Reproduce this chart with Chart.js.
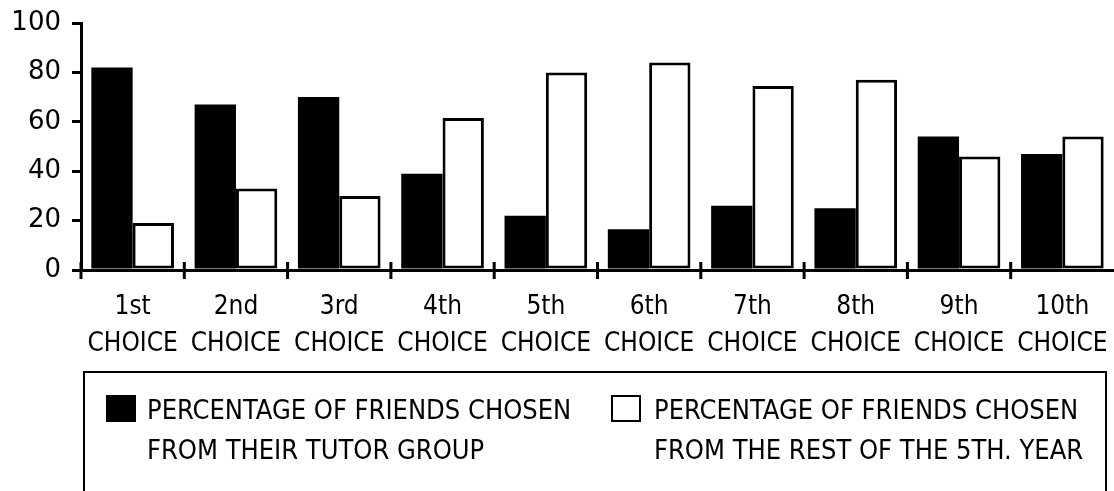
<!DOCTYPE html>
<html>
<head>
<meta charset="utf-8">
<script src="https://cdn.jsdelivr.net/npm/chart.js@4/dist/chart.umd.min.js"></script>
<style>
html,body{margin:0;padding:0;background:#fff;}
#wrap{width:1114px;height:491px;position:relative;overflow:hidden;}
</style>
</head>
<body>
<div id="wrap"><canvas id="c" width="1114" height="491"></canvas></div>
<script>
const categories = [
  ["1st","CHOICE"],["2nd","CHOICE"],["3rd","CHOICE"],["4th","CHOICE"],["5th","CHOICE"],
  ["6th","CHOICE"],["7th","CHOICE"],["8th","CHOICE"],["9th","CHOICE"],["10th","CHOICE"]
];
const tutorGroup = [82, 67, 70, 39, 22, 16.5, 26, 25, 54, 47];
const restOfYear = [19, 33, 30, 61.5, 80, 84, 74.5, 77, 46, 54];
const yTicks = [0, 20, 40, 60, 80, 100];
const tutorLabel = ["PERCENTAGE OF FRIENDS CHOSEN", "FROM THEIR TUTOR GROUP"];
const restLabel = ["PERCENTAGE OF FRIENDS CHOSEN", "FROM THE REST OF THE 5TH. YEAR"];

const COND = "'DejaVu Sans Condensed', 'DejaVu Sans', sans-serif";
const REG = "'DejaVu Sans', sans-serif";

const tickMarks = {
  id: 'tickMarks',
  afterDraw(chart) {
    const xs = chart.scales.x;
    const ctx = chart.ctx;
    const n = xs.getLabels().length;
    const step = (xs.right - xs.left) / n;
    ctx.save();
    ctx.strokeStyle = '#000';
    ctx.lineWidth = 3;
    ctx.beginPath();
    for (let i = 0; i < n; i++) {
      const x = xs.left + i * step;
      ctx.moveTo(x, xs.top - 8);
      ctx.lineTo(x, xs.top + 9);
    }
    ctx.stroke();
    ctx.restore();
  }
};

const boxLegend = {
  id: 'boxLegend',
  afterDraw(chart) {
    const ctx = chart.ctx;
    ctx.save();
    ctx.strokeStyle = '#000';
    ctx.lineWidth = 2;
    ctx.strokeRect(84, 372, 1022, 160);
    const entries = [
      {ds: chart.data.datasets[0], sx: 106, tx: 147},
      {ds: chart.data.datasets[1], sx: 611, tx: 654}
    ];
    ctx.font = "27px " + COND;
    ctx.textBaseline = 'middle';
    ctx.textAlign = 'left';
    entries.forEach(e => {
      ctx.fillStyle = e.ds.backgroundColor;
      ctx.fillRect(e.sx, 395, 30, 27);
      if (e.ds.borderWidth) {
        ctx.lineWidth = 2;
        ctx.strokeStyle = e.ds.borderColor;
        ctx.strokeRect(e.sx + 1, 396, 28, 25);
      }
      ctx.fillStyle = '#000';
      e.ds.label.forEach((line, k) => ctx.fillText(line, e.tx, 412 + k * 40));
    });
    ctx.restore();
  }
};

new Chart(document.getElementById('c'), {
  type: 'bar',
  data: {
    labels: categories,
    datasets: [
      {label: tutorLabel, data: tutorGroup, backgroundColor: '#000', borderWidth: 0,
       categoryPercentage: 0.8, barPercentage: 1.0},
      {label: restLabel, data: restOfYear, backgroundColor: '#fff', borderColor: '#000',
       borderWidth: 3, borderSkipped: false, categoryPercentage: 0.8, barPercentage: 1.0}
    ]
  },
  options: {
    responsive: false,
    devicePixelRatio: 1,
    animation: false,
    layout: {padding: {top: 23, left: 0, right: 0, bottom: 0}},
    plugins: {legend: {display: false}, tooltip: {enabled: false}},
    scales: {
      x: {
        offset: true,
        grid: {display: true, drawOnChartArea: false, drawTicks: false, color: '#000'},
        border: {display: true, color: '#000', width: 3},
        ticks: {
          color: '#000', padding: 19, maxRotation: 0, autoSkip: false,
          font: {family: COND, size: 26, lineHeight: 1.423}
        },
        afterFit(s) { s.height = 221; s.paddingLeft = 0; s.paddingRight = 0; }
      },
      y: {
        min: 0, max: 100,
        afterBuildTicks(s) { s.ticks = yTicks.map(v => ({value: v})); },
        grid: {drawOnChartArea: false, drawTicks: true, tickLength: 9, color: '#000', lineWidth: 3},
        border: {display: true, color: '#000', width: 3},
        ticks: {color: '#000', padding: 11, font: {family: REG, size: 26}},
        afterFit(s) { s.width = 81; s.paddingTop = 0; s.paddingBottom = 0; }
      }
    }
  },
  plugins: [tickMarks, boxLegend]
});
</script>
</body>
</html>
